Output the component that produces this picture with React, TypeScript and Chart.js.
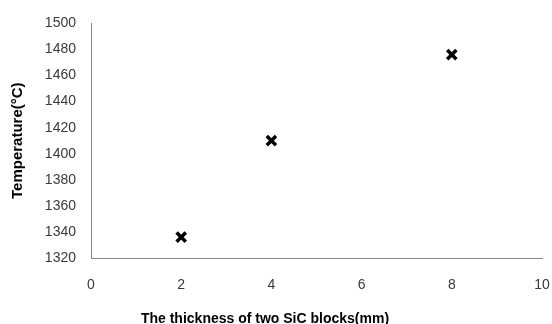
import React, { useEffect, useRef } from "react";
import { Chart, registerables } from "chart.js";

Chart.register(...registerables);

const thickness = [2, 4, 8];
const temperature = [1336, 1410, 1476];
const xTicks = [0, 2, 4, 6, 8, 10];
const yTicks = [1320, 1340, 1360, 1380, 1400, 1420, 1440, 1460, 1480, 1500];
const xTitle = "The thickness of two SiC blocks(mm)";
const yTitle = "Temperature(°C)";

const FONT = "'Liberation Sans', Arial, sans-serif";

export default function App() {
  const ref = useRef<HTMLCanvasElement | null>(null);

  useEffect(() => {
    document.body.style.margin = "0";
    const ctx = ref.current!.getContext("2d")!;
    const chart = new Chart(ctx, {
      type: "scatter",
      data: {
        datasets: [
          {
            data: thickness.map((x, i) => ({ x, y: temperature[i] })),
            pointStyle: "crossRot",
            pointRadius: 6.5,
            pointHoverRadius: 6.5,
            borderColor: "#000000",
            backgroundColor: "#000000",
            pointBorderWidth: 3.5,
          },
        ],
      },
      options: {
        animation: false,
        responsive: false,
        maintainAspectRatio: false,
        layout: { padding: { left: -14, right: 8, top: 21, bottom: 0 } },
        plugins: {
          legend: { display: false },
          tooltip: { enabled: false },
          title: {
            display: true,
            position: "bottom",
            text: xTitle,
            color: "#000000",
            font: { family: FONT, size: 14, weight: "bold", lineHeight: 1 },
            padding: { top: 0, bottom: -2 },
          },
        },
        scales: {
          x: {
            type: "linear",
            min: xTicks[0],
            max: xTicks[xTicks.length - 1],
            afterBuildTicks: (s: any) => {
              s.ticks = xTicks.map((v) => ({ value: v }));
            },
            afterFit: (s: any) => {
              s.height = 54;
              s.paddingRight = 0;
              s.paddingLeft = 0;
            },
            grid: { display: false, drawTicks: false },
            border: { display: true, color: "#868686", width: 1 },
            ticks: {
              padding: 19,
              color: "#3a3a3a",
              font: { family: FONT, size: 14 },
              callback: (v: any) => String(v),
            },
          },
          y: {
            type: "linear",
            min: yTicks[0],
            max: yTicks[yTicks.length - 1],
            afterBuildTicks: (s: any) => {
              s.ticks = yTicks.map((v) => ({ value: v }));
            },
            afterFit: (s: any) => {
              s.width = 105;
            },
            grid: { display: false, drawTicks: false },
            border: { display: true, color: "#868686", width: 1 },
            ticks: {
              padding: 15,
              color: "#3a3a3a",
              font: { family: FONT, size: 14 },
              callback: (v: any) => String(v),
            },
            title: {
              display: true,
              text: yTitle,
              color: "#000000",
              font: { family: FONT, size: 15, weight: "bold" },
              padding: { top: 23, bottom: 0 },
            },
          },
        },
      },
    });
    return () => chart.destroy();
  }, []);

  return (
    <div style={{ position: "absolute", left: 0, top: 0, width: 552, height: 324 }}>
      <canvas ref={ref} width={552} height={324} />
    </div>
  );
}
